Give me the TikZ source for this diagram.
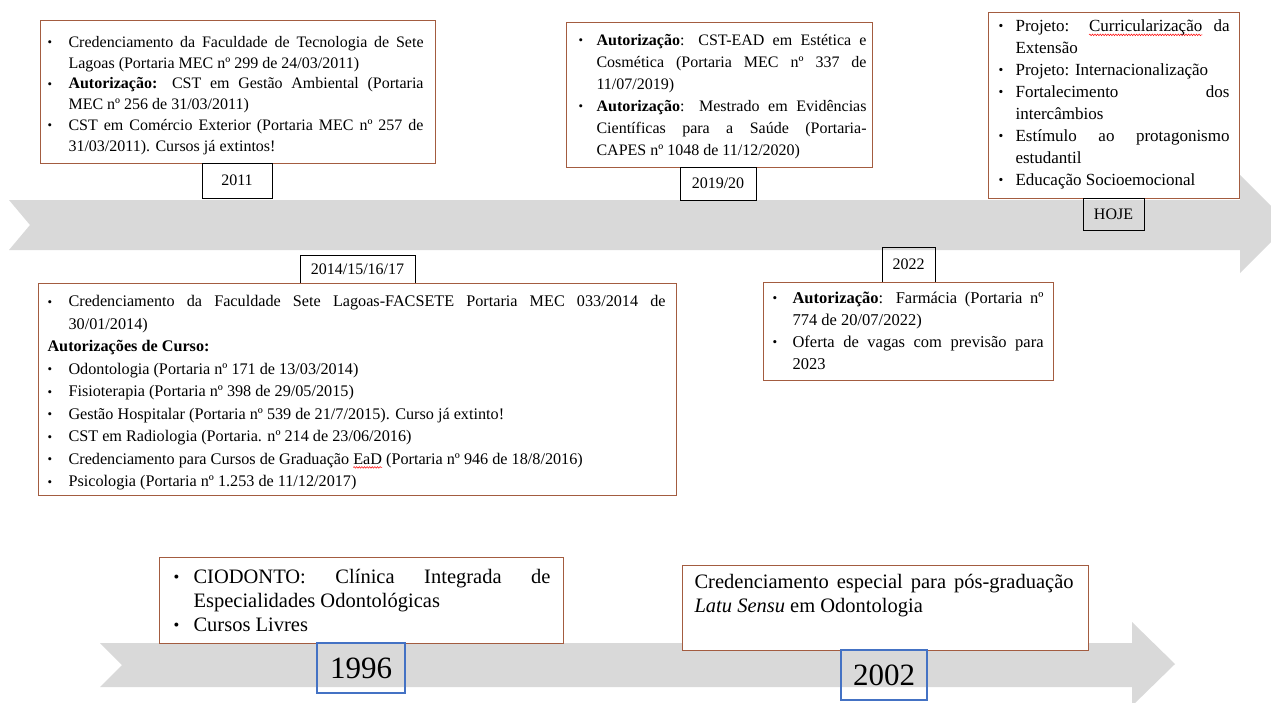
\documentclass[tikz,border=0pt]{standalone}
\usepackage{fontspec}
\setmainfont{Liberation Serif}
\usetikzlibrary{decorations.pathmorphing}

\definecolor{boxbrown}{RGB}{163,92,64}
\definecolor{yearblue}{RGB}{68,114,196}
\definecolor{bandgray}{RGB}{217,217,217}

\newlength\bulx
\newlength\txtx
\newlength\spellw
\newsavebox\spellbox
\newcommand\spell[1]{\sbox\spellbox{#1}\setlength\spellw{\wd\spellbox}%
  \rlap{\tikz[overlay]\draw[red, line width=0.5pt, decorate,
    decoration={snake, amplitude=0.8pt, segment length=2.6pt}]
    (0pt,-3.3pt) -- (\spellw,-3.3pt);}\usebox\spellbox}
\newcommand\bul{\raisebox{0.6pt}{\scalebox{0.8}{\textbullet}}}
\newcommand\bi[1]{\par\hangindent=\dimexpr\txtx-\bulx\relax\hangafter=1
  \noindent\makebox[\dimexpr\txtx-\bulx\relax][l]{\bul}\strut#1\par}
\newcommand\np[1]{\par\noindent\strut#1\par}
\newcommand\tlbox[8]{%
  \begin{minipage}[t][#2][t]{#1}%
  \vspace*{#6}%
  #7\setlength\bulx{#3}\setlength\txtx{#4}%
  \leftskip=\bulx \rightskip=#5\relax \parindent=0pt \parfillskip=0pt plus 1fil
  \hyphenpenalty=10000 \tolerance=9999 \emergencystretch=20pt
  #8%
  \end{minipage}}

\tikzset{
  evbox/.style={draw=boxbrown, fill=white, line width=1.1pt, inner sep=0pt, anchor=north west},
  yearbox/.style={draw=black, line width=0.9pt, inner sep=0pt, font=\fontsize{16}{19}\selectfont},
  bigyear/.style={draw=yearblue, line width=1.2pt, inner sep=0pt, font=\fontsize{31}{36}\selectfont},
  band/.style={fill=bandgray, draw=none}
}

\begin{document}
\begin{tikzpicture}[x=1pt,y=-1pt]
\useasboundingbox (0,0) rectangle (1271,702);
\clip (0,0) rectangle (1271,702);

% timeline arrows
\fill[band] (9,200) -- (1240,200) -- (1240,175) -- (1289,224) -- (1240,273)
  -- (1240,250) -- (9,250) -- (30,225) -- cycle;
\fill[band] (100,643) -- (1132,643) -- (1132,622) -- (1175,664) -- (1132,706)
  -- (1132,687) -- (100,687) -- (122,665) -- cycle;

% 2011
\node[evbox] (b2011) at (40,20) {\tlbox{395pt}{143pt}{7pt}{28pt}{12pt}{12.5pt}{\fontsize{16}{20.7}\selectfont}{%
  \bi{Credenciamento da Faculdade de Tecnologia de Sete Lagoas (Portaria MEC nº 299 de 24/03/2011)}
  \bi{\textbf{Autorização:} CST em Gestão Ambiental (Portaria MEC nº 256 de 31/03/2011)}
  \bi{CST em Comércio Exterior (Portaria MEC nº 257 de 31/03/2011). Cursos já extintos!}}};
\node[yearbox, minimum width=70pt, minimum height=35pt] (y2011) at (237,180.5) {2011};

% 2019/20
\node[evbox] (b2019) at (566,22) {\tlbox{306pt}{145pt}{12pt}{30pt}{6pt}{7.6pt}{\fontsize{16}{22}\selectfont}{%
  \bi{\textbf{Autorização}: CST-EAD em Estética e Cosmética (Portaria MEC nº 337 de 11/07/2019)}
  \bi{\textbf{Autorização}: Mestrado em Evidências Científicas para a Saúde (Portaria-\linebreak CAPES nº 1048 de 11/12/2020)}}};
\node[yearbox, minimum width=76pt, minimum height=33pt] (y2019) at (718,183.5) {2019/20};

% HOJE
\node[evbox] (bhoje) at (988,12) {\tlbox{251pt}{186pt}{10pt}{27pt}{10pt}{3.6pt}{\fontsize{17}{22}\selectfont}{%
  \bi{Projeto: \spell{Curricularização} da Extensão}
  \bi{Projeto: Internacionalização}
  \bi{Fortalecimento dos intercâmbios}
  \bi{Estímulo ao protagonismo estudantil}
  \bi{Educação Socioemocional}}};
\node[yearbox, minimum width=61pt, minimum height=32pt] (yhoje) at (1113.5,214) {HOJE};

% 2014/15/16/17
\node[yearbox, minimum width=115pt, minimum height=28pt] (y2014) at (357.5,269) {2014/15/16/17};
\node[evbox] (b2014) at (38,283) {\tlbox{638pt}{212pt}{9pt}{30pt}{11pt}{7.3pt}{\fontsize{16.2}{22.5}\selectfont}{%
  \bi{Credenciamento da Faculdade Sete Lagoas-FACSETE Portaria MEC 033/2014 de 30/01/2014)}
  \np{\textbf{Autorizações de Curso:}}
  \bi{Odontologia (Portaria nº 171 de 13/03/2014)}
  \bi{Fisioterapia (Portaria nº 398 de 29/05/2015)}
  \bi{Gestão Hospitalar (Portaria nº 539 de 21/7/2015). Curso já extinto!}
  \bi{CST em Radiologia (Portaria. nº 214 de 23/06/2016)}
  \bi{Credenciamento para Cursos de Graduação \spell{EaD} (Portaria nº 946 de 18/8/2016)}
  \bi{Psicologia (Portaria nº 1.253 de 11/12/2017)}}};

% 2022
\node[yearbox, minimum width=53pt, minimum height=35pt] (y2022) at (908.5,264.5) {2022};
\node[evbox] (b2022) at (763,282) {\tlbox{290pt}{98pt}{9pt}{29pt}{10pt}{5.6pt}{\fontsize{16.5}{22}\selectfont}{%
  \bi{\textbf{Autorização}: Farmácia (Portaria nº 774 de 20/07/2022)}
  \bi{Oferta de vagas com previsão para 2023}}};

% 1996
\node[evbox] (b1996) at (159,557) {\tlbox{404pt}{86pt}{14pt}{34pt}{13pt}{9.2pt}{\fontsize{20.5}{24}\selectfont}{%
  \bi{CIODONTO: Clínica Integrada de Especialidades Odontológicas}
  \bi{Cursos Livres}}};
\node[bigyear, minimum width=88pt, minimum height=50pt] (y1996) at (361,668) {1996};

% 2002
\node[evbox] (b2002) at (682,565) {\tlbox{406pt}{85pt}{12pt}{12pt}{15pt}{6.2pt}{\fontsize{20.5}{24}\selectfont}{%
  \np{Credenciamento especial para pós-graduação \textit{Latu Sensu} em Odontologia}}};
\node[bigyear, minimum width=86pt, minimum height=50pt] (y2002) at (884,675) {2002};
\end{tikzpicture}
\end{document}
